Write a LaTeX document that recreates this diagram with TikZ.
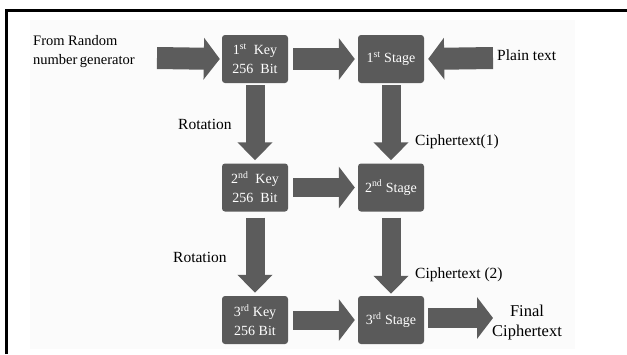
\documentclass[tikz,border=0pt]{standalone}
\usepackage{fontspec}
\setmainfont{Liberation Serif}
\usetikzlibrary{arrows.meta}
\definecolor{boxgray}{HTML}{5A5A5A}
\definecolor{arrgray}{HTML}{5C5C5C}
\definecolor{bggray}{HTML}{FBFBFB}
\tikzset{
  blk/.style={fill=boxgray, rounded corners=3pt, minimum width=66pt, minimum height=48pt,
    inner sep=0pt, text=white, align=center, font=\fontsize{14}{19}\selectfont},
  stg/.style={blk, font=\fontsize{14}{16}\selectfont},
  lbl/.style={inner sep=0pt, text=black, font=\fontsize{15.5}{19}\selectfont},
  harrow/.style={draw=arrgray, line width=22pt, -{Triangle[length=16pt,width=41pt]}},
  varrow/.style={draw=arrgray, line width=19pt, -{Triangle[length=18pt,width=34pt]}},
}
\begin{document}
\begin{tikzpicture}[x=1pt,y=-1pt]
\useasboundingbox (0,0) rectangle (627,354);
\fill[bggray] (30,20) rectangle (575,349);
\draw[line width=2.2pt] (6.5,354) -- (6.5,10.5) -- (627,10.5);

% boxes
\node[blk] (k1) at (255,59) {1\textsuperscript{st}\ \ Key\\256\ \ Bit};
\node[stg] (s1) at (391,59) {1\textsuperscript{st} Stage};
\node[blk] (k2) at (255,187.5) {2\textsuperscript{nd}\ \ Key\\256\ \ Bit};
\node[stg] (s2) at (391,187.5) {2\textsuperscript{nd} Stage};
\node[blk] (k3) at (255,320) {3\textsuperscript{rd} Key\\256\ Bit};
\node[stg] (s3) at (391,320) {3\textsuperscript{rd} Stage};

% free ends
\coordinate (rng) at (157,58);
\coordinate (pt) at (493,58);
\coordinate (fin) at (493,318);

% labels
\node[lbl, align=left, anchor=north west, font=\fontsize{14.5}{19}\selectfont] (lrng) at (33,35)
  {From Random\\number\hspace{2.5pt}generator};
\node[lbl, anchor=west] (rot1) at (178,124) {Rotation};
\node[lbl, anchor=west] (rot2) at (173,257) {Rotation};
\node[lbl, anchor=west] (lpt) at (497,55) {Plain text};
\node[lbl, anchor=west] (c1) at (415,142) {Ciphertext(1)};
\node[lbl, anchor=west] (c2) at (415,275) {Ciphertext (2)};
\node[lbl, align=center, font=\fontsize{16.5}{20}\selectfont] (lfin) at (527,323) {Final\\Ciphertext};

% arrows
\draw[harrow, shorten >=2pt] (rng) -- (k1.west);
\draw[harrow, shorten <=5pt, shorten >=3pt] (k1.east) -- (s1.west);
\draw[harrow, shorten >=4pt] (pt) -- (s1.east);
\draw[harrow, line width=19pt, shorten <=5pt, shorten >=3pt] (k2.east) -- (s2.west);
\draw[harrow, line width=19pt, shorten <=5pt, shorten >=3pt] (k3.east) -- (s3.west);
\draw[harrow, line width=20pt, shorten <=4pt] (s3.east |- fin) -- (fin);
\draw[varrow, shorten <=2pt, shorten >=3pt] (k1.south) -- (k2.north);
\draw[varrow, shorten <=2pt, shorten >=3pt] (s1.south) -- (s2.north);
\draw[varrow, shorten <=6pt, shorten >=3pt] (k2.south) -- (k3.north);
\draw[varrow, shorten <=6pt, shorten >=2pt] (s2.south) -- (s3.north);
\end{tikzpicture}
\end{document}
